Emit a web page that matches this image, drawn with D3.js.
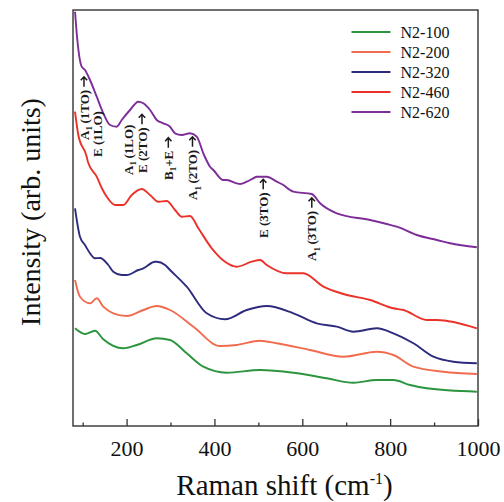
<!DOCTYPE html>
<html>
<head>
<meta charset="utf-8">
<script src="https://cdn.jsdelivr.net/npm/d3@7"></script>
<style>
  body { margin: 0; background: #fff; }
  text { font-family: "Liberation Serif", "Times New Roman", serif; }
</style>
</head>
<body>
<div id="raman_chart"></div>
<script>
// Raman spectra, offset stack (arb. units)
const seriesNames = ["N2-100", "N2-200", "N2-320", "N2-460", "N2-620"];
const seriesColors = ["#2a943f", "#f16c4e", "#2d2b7e", "#eb3229", "#7d2d98"];

const shift100 = [82.6, 105.3, 128.1, 147.0, 192.6, 223.1, 268.6, 298.9, 336.9, 374.7, 428.0, 503.9, 579.7, 655.8, 716.4, 769.6, 807.5, 845.5, 883.5, 997.4];
const int100 = [977, 920, 953, 867, 777, 810, 877, 860, 727, 593, 533, 560, 533, 477, 433, 460, 460, 410, 377, 343];

const shift200 = [82.6, 93.9, 116.7, 132.0, 147.0, 169.8, 200.3, 238.1, 268.6, 298.9, 352.0, 412.8, 450.8, 503.9, 541.9, 617.7, 693.6, 769.6, 807.5, 853.0, 921.3, 997.4];
const int200 = [1460, 1293, 1227, 1277, 1193, 1127, 1100, 1160, 1200, 1160, 993, 800, 810, 853, 827, 760, 693, 743, 710, 593, 543, 520];

const shift320 = [82.6, 93.9, 105.3, 116.7, 128.1, 139.5, 158.4, 169.8, 188.9, 200.3, 226.7, 238.1, 264.7, 268.6, 287.5, 298.9, 336.9, 382.5, 424.2, 473.6, 519.1, 579.7, 633.0, 678.5, 716.4, 769.6, 807.5, 853.0, 898.5, 944.1, 997.4];
const int320 = [2177, 1893, 1810, 1727, 1677, 1680, 1610, 1543, 1510, 1510, 1560, 1577, 1643, 1643, 1610, 1560, 1393, 1127, 1067, 1160, 1200, 1127, 1027, 993, 943, 977, 927, 827, 693, 643, 627];

const shift460 = [82.6, 90.1, 109.2, 112.0, 132.0, 143.4, 154.7, 173.7, 192.6, 211.7, 234.5, 253.4, 272.3, 291.4, 310.3, 325.5, 344.5, 363.4, 393.9, 424.2, 450.8, 485.0, 503.9, 519.1, 564.7, 602.5, 648.0, 693.6, 754.4, 807.5, 830.2, 883.5, 906.3, 997.4];
const int460 = [3143, 2910, 2693, 2640, 2493, 2380, 2293, 2210, 2210, 2310, 2370, 2310, 2243, 2250, 2160, 2093, 2100, 1977, 1777, 1643, 1593, 1643, 1660, 1610, 1527, 1527, 1393, 1320, 1260, 1177, 1160, 1060, 1060, 977];

const shift620 = [82.6, 86.4, 97.8, 105.3, 116.7, 132.0, 147.0, 162.3, 177.5, 188.9, 207.8, 226.7, 238.1, 253.4, 268.6, 283.6, 298.9, 310.3, 325.5, 344.5, 359.7, 374.7, 390.0, 397.5, 420.3, 428.0, 450.8, 458.3, 473.6, 488.6, 496.4, 519.1, 541.9, 557.0, 572.2, 579.7, 621.6, 640.5, 678.5, 754.4, 792.4, 815.2, 860.7, 906.3, 936.6, 997.4];
const int620 = [4143, 3930, 3593, 3560, 3460, 3293, 3127, 3010, 2993, 3060, 3160, 3243, 3227, 3160, 3060, 3027, 2993, 2927, 2910, 2927, 2893, 2727, 2593, 2560, 2460, 2460, 2427, 2420, 2443, 2477, 2493, 2493, 2443, 2410, 2360, 2343, 2320, 2227, 2127, 2060, 2020, 1993, 1910, 1860, 1827, 1787];

// mode labels: text ("_1" = subscript 1), arrow flag, wavenumber, intensity at label start
const modeText = ["A_1\u2009(1TO)", "E (1LO)", "A_1\u2009(1LO)", "E (2TO)", "B_1+E", "A_1\u2009(2TO)", "E (3TO)", "A_1\u2009(3TO)"];
const modeArrow = [true, false, false, true, true, true, true, true];
const modeShift = [103, 133, 204, 235, 295, 350, 511, 621.6];
const modeInt = [2860, 2690, 2510, 2530, 2460, 2260, 1880, 1650];

const majorTicks = [200, 400, 600, 800, 1000];
const minorTicks = [100, 300, 500, 700, 900];

const margin = { top: 10, right: 26, bottom: 76, left: 73 };
const width = 504 - margin.left - margin.right;
const height = 502 - margin.top - margin.bottom;

const svg = d3.select("#raman_chart").append("svg")
    .attr("width", 504)
    .attr("height", 502);

const g = svg.append("g").attr("transform", `translate(${margin.left},${margin.top})`);

const x = d3.scaleLinear().domain([78, 1000]).range([0, width]);
const y = d3.scaleLinear().domain([0, 4160]).range([height, 0]);

g.append("clipPath").attr("id", "plotclip")
    .append("rect").attr("width", width).attr("height", height);

const allSeries = [
    { xs: shift100, ys: int100 },
    { xs: shift200, ys: int200 },
    { xs: shift320, ys: int320 },
    { xs: shift460, ys: int460 },
    { xs: shift620, ys: int620 }
];

const line = d3.line()
    .x(d => x(d[0]))
    .y(d => y(d[1]))
    .curve(d3.curveMonotoneX);

allSeries.forEach((s, i) => {
    g.append("path")
        .datum(s.xs.map((v, k) => [v, s.ys[k]]))
        .attr("clip-path", "url(#plotclip)")
        .attr("fill", "none")
        .attr("stroke", seriesColors[i])
        .attr("stroke-width", 1.9)
        .attr("stroke-linejoin", "round")
        .attr("d", line);
});

// x axis, ticks pointing inward
const xAxis = g.append("g")
    .attr("transform", `translate(0,${height})`)
    .call(d3.axisBottom(x).tickValues(majorTicks).tickSize(-7).tickPadding(14).tickFormat(d3.format("d")));
xAxis.select(".domain").remove();
xAxis.selectAll("line").attr("stroke", "#333").attr("stroke-width", 1.3);
xAxis.selectAll("text")
    .attr("fill", "#111")
    .style("font-size", "22px")
    .style("font-family", "'Liberation Serif', serif");

const xMinor = g.append("g")
    .attr("transform", `translate(0,${height})`)
    .call(d3.axisBottom(x).tickValues(minorTicks).tickSize(-3.5).tickFormat(""));
xMinor.select(".domain").remove();
xMinor.selectAll("line").attr("stroke", "#333").attr("stroke-width", 1.3);

// frame
g.append("rect")
    .attr("width", width)
    .attr("height", height)
    .attr("fill", "none")
    .attr("stroke", "#333")
    .attr("stroke-width", 1.4);

// axis titles
const xTitle = g.append("text")
    .attr("x", width / 2 + 9)
    .attr("y", height + 69)
    .attr("text-anchor", "middle")
    .style("font-size", "29px")
    .attr("fill", "#111");
xTitle.append("tspan").text("Raman shift (cm");
xTitle.append("tspan").attr("dy", -11).style("font-size", "16px").text("-1");
xTitle.append("tspan").attr("dy", 11).text(")");

svg.append("text")
    .attr("transform", "rotate(-90)")
    .attr("x", -212)
    .attr("y", 40)
    .attr("text-anchor", "middle")
    .style("font-size", "28px")
    .attr("fill", "#111")
    .text("Intensity (arb. units)");

// mode labels, rotated, reading upwards, arrow at the top end
modeText.forEach((t, i) => {
    const lg = g.append("g")
        .attr("transform", `translate(${x(modeShift[i])},${y(modeInt[i])}) rotate(-90)`);
    const lab = lg.append("text")
        .attr("dy", "0.35em")
        .style("font-size", "13px")
        .style("font-weight", "bold")
        .attr("fill", "#1a1a1a");
    const parts = t.split("_1");
    if (parts.length === 1) {
        lab.text(t);
    } else {
        lab.append("tspan").text(parts[0]);
        lab.append("tspan").attr("dy", 3.5).style("font-size", "9px").text("1");
        lab.append("tspan").attr("dy", -3.5).text(parts[1]);
    }
    if (modeArrow[i]) {
        const len = lab.node().getComputedTextLength();
        const a0 = len + 3, a1 = len + 13;
        lg.append("path")
            .attr("d", `M${a0},0H${a1}M${a1 - 3.5},-3.2L${a1},0L${a1 - 3.5},3.2`)
            .attr("fill", "none")
            .attr("stroke", "#1a1a1a")
            .attr("stroke-width", 1.5);
    }
});

// legend
const legend = g.append("g").attr("transform", `translate(${x(712)},22)`);
seriesNames.forEach((name, i) => {
    const row = legend.append("g").attr("transform", `translate(0,${i * 20})`);
    row.append("line")
        .attr("x1", 0).attr("x2", 39)
        .attr("stroke", seriesColors[i])
        .attr("stroke-width", 1.8);
    row.append("text")
        .attr("x", 49)
        .attr("dy", "0.35em")
        .style("font-size", "16px")
        .attr("fill", "#111")
        .text(name);
});
</script>
</body>
</html>
